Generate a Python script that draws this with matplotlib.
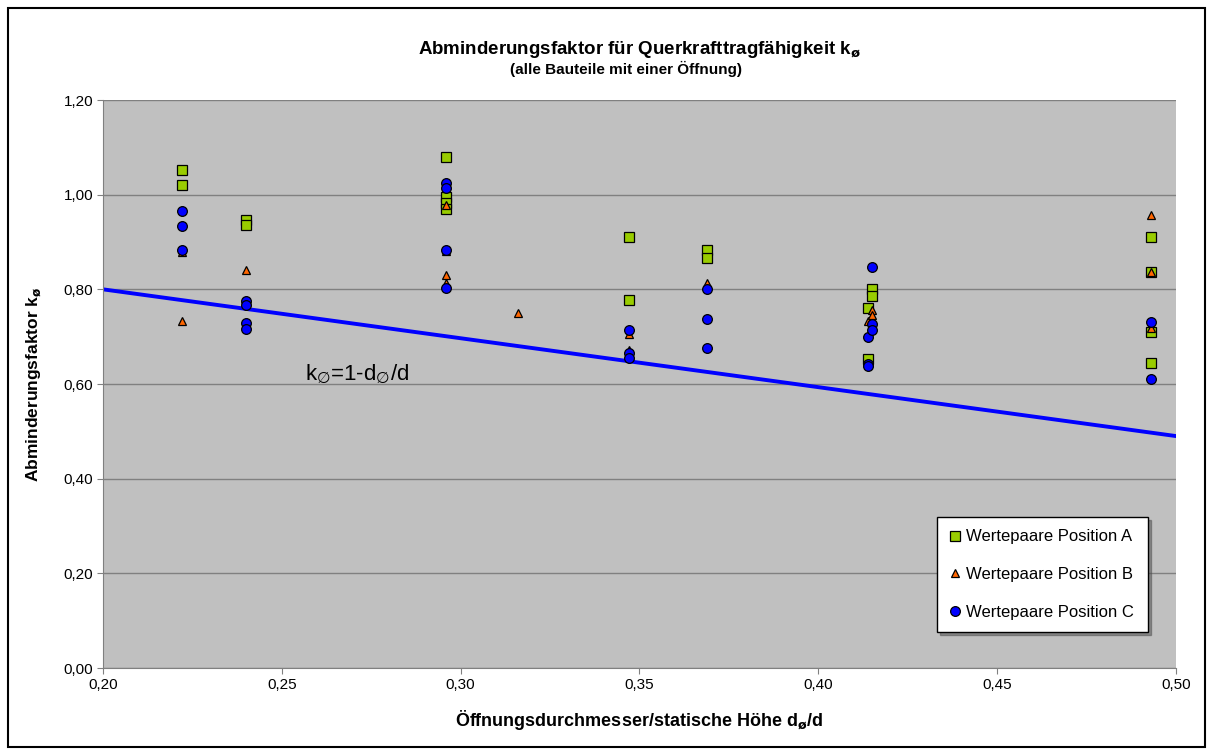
import matplotlib
matplotlib.use("Agg")
import matplotlib.pyplot as plt
from matplotlib.patches import Rectangle

plt.rcParams['font.family'] = ['Liberation Sans', 'DejaVu Sans']

# Data
xA = [0.222, 0.222, 0.240, 0.240, 0.296, 0.296, 0.296, 0.296, 0.347, 0.347, 0.369, 0.369,
      0.414, 0.414, 0.415, 0.415, 0.493, 0.493, 0.493, 0.493]
yA = [1.052, 1.021, 0.947, 0.935, 1.080, 0.995, 0.982, 0.970, 0.910, 0.778, 0.883, 0.866,
      0.760, 0.652, 0.800, 0.785, 0.910, 0.837, 0.710, 0.645]

xB = [0.222, 0.222, 0.240, 0.296, 0.296, 0.296, 0.296, 0.316, 0.347, 0.347, 0.369,
      0.414, 0.415, 0.415, 0.493, 0.493, 0.493]
yB = [0.879, 0.733, 0.840, 0.978, 0.880, 0.830, 0.813, 0.751, 0.706, 0.672, 0.813,
      0.733, 0.756, 0.745, 0.957, 0.837, 0.718]

xC = [0.222, 0.222, 0.222, 0.240, 0.240, 0.240, 0.240, 0.296, 0.296, 0.296, 0.296,
      0.347, 0.347, 0.347, 0.369, 0.369, 0.369, 0.414, 0.414, 0.414, 0.415, 0.415, 0.415,
      0.493, 0.493]
yC = [0.966, 0.934, 0.884, 0.776, 0.766, 0.728, 0.716, 1.024, 1.014, 0.883, 0.803,
      0.714, 0.665, 0.655, 0.801, 0.737, 0.676, 0.699, 0.643, 0.637, 0.847, 0.727, 0.714,
      0.731, 0.611]

line_x = [0.20, 0.50]
line_y = [0.80, 0.49]

xticks = [0.20, 0.25, 0.30, 0.35, 0.40, 0.45, 0.50]
yticks = [0.00, 0.20, 0.40, 0.60, 0.80, 1.00, 1.20]

W, H = 1213, 755
fig = plt.figure(figsize=(W / 100, H / 100), dpi=100)
fig.patch.set_facecolor('white')
# outer border
fig.patches.append(Rectangle((8 / W, 8 / H), 1197 / W, 739 / H, transform=fig.transFigure,
                             fill=False, edgecolor='black', linewidth=1.5))

ax = fig.add_axes([103 / W, 1 - 668 / H, (1176 - 103) / W, (668 - 100) / H])
ax.set_facecolor('#C0C0C0')
ax.set_xlim(0.20, 0.50)
ax.set_ylim(0.0, 1.20)
ax.set_xticks(xticks)
ax.set_yticks(yticks)
ax.set_xticklabels([f"{v:.2f}".replace('.', ',') for v in xticks], fontsize=11)
ax.set_yticklabels([f"{v:.2f}".replace('.', ',') for v in yticks], fontsize=11)
ax.grid(axis='y', color='#808080', linewidth=1)
ax.set_axisbelow(True)
for s in ['top', 'right']:
    ax.spines[s].set_visible(False)
for s in ['left', 'bottom']:
    ax.spines[s].set_color('#808080')
ax.tick_params(axis='both', direction='out', length=4, color='#808080', pad=3)

ax.plot(line_x, line_y, color='#0000FF', linewidth=2.8, zorder=2)

ax.plot(xA, yA, linestyle='none', marker='s', markersize=6.5, markerfacecolor='#99CC00',
        markeredgecolor='black', markeredgewidth=0.9, label='Wertepaare Position A', zorder=3)
ax.plot(xB, yB, linestyle='none', marker='^', markersize=5.5, markerfacecolor='#FF6600',
        markeredgecolor='black', markeredgewidth=0.9, label='Wertepaare Position B', zorder=4)
ax.plot(xC, yC, linestyle='none', marker='o', markersize=7, markerfacecolor='#0000FF',
        markeredgecolor='black', markeredgewidth=0.9, label='Wertepaare Position C', zorder=5)

ax.text(0.2565, 0.622, r'k$_{\varnothing}$=1-d$_{\varnothing}$/d', fontsize=16, ha='left', va='center')

ax.set_xlabel(r'Öffnungsdurchmesser/statische Höhe d$_{\mathbf{ø}}$/d', fontsize=13, fontweight='bold', labelpad=12)
ax.set_ylabel(r'Abminderungsfaktor k$_{\mathbf{ø}}$', fontsize=12.5, fontweight='bold', labelpad=14)

fig.text(640 / W, 1 - 49 / H, r'Abminderungsfaktor für Querkrafttragfähigkeit k$_{\mathbf{ø}}$',
         ha='center', va='center', fontsize=13.5, fontweight='bold')
fig.text(626 / W, 1 - 69 / H, '(alle Bauteile mit einer Öffnung)', ha='center', va='center',
         fontsize=11, fontweight='bold')

leg = ax.legend(loc='lower left', bbox_to_anchor=((937 - 103) / (1176 - 103), (668 - 632) / (668 - 100),
                                                   (1148 - 937) / (1176 - 103), (632 - 517) / (668 - 100)),
                mode='expand', fontsize=12, frameon=True, fancybox=False, shadow=True,
                borderpad=0.75, labelspacing=1.35, handlelength=0.7, handletextpad=0.3, borderaxespad=0)
leg.get_frame().set_edgecolor('black')
leg.get_frame().set_linewidth(1)
leg.get_frame().set_facecolor('white')

fig.savefig('out.png', dpi=100)
